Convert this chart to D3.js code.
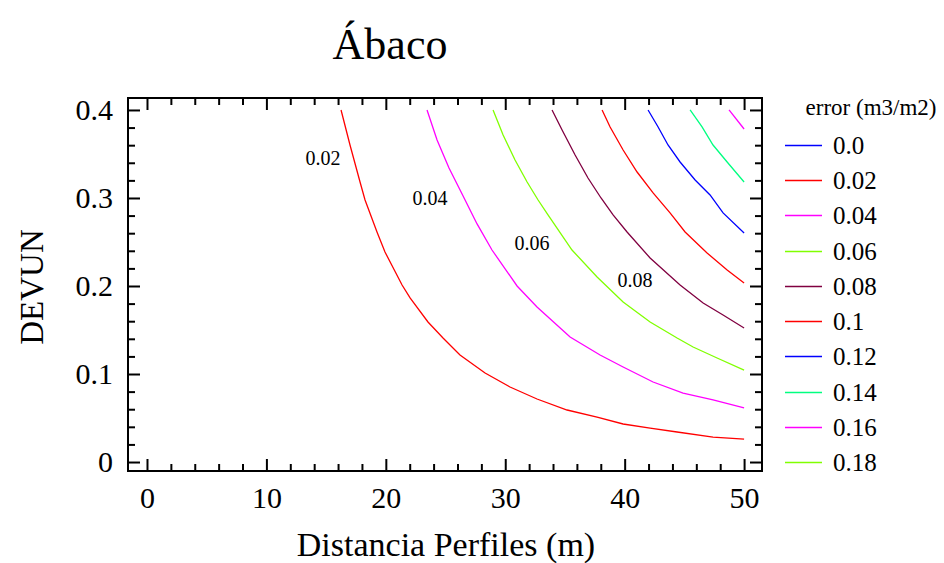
<!DOCTYPE html>
<html><head><meta charset="utf-8">
<script src="https://cdn.jsdelivr.net/npm/d3@7"></script>
<style>body{margin:0;background:#fff}svg{display:block}</style>
</head><body><svg id="c" width="944" height="563"></svg>
<script>
// ---- data ----
const levels = ["0.0","0.02","0.04","0.06","0.08","0.1","0.12","0.14","0.16","0.18"];
const levelColors = ["#0000ff","#ff0000","#ff00ff","#80ff00","#800040","#ff0000","#0000ff","#00ff80","#ff00ff","#80ff00"];
const c002x = [16.25,17.0,17.84,18.26,19.26,19.93,21.36,22.03,23.53,24.79,26.21,28.31,30.4,32.66,35.18,37.69,39.87,42.13,44.39,47.4,50];
const c002y = [0.40,0.3602,0.3182,0.2977,0.2614,0.2386,0.2011,0.1864,0.1591,0.1409,0.1216,0.1011,0.0852,0.0716,0.0591,0.0511,0.0432,0.0386,0.0341,0.0284,0.0261];
const c004x = [23.45,24.29,25.29,26.47,27.64,28.89,30.99,32.66,35.43,37.94,39.87,42.38,44.89,47.4,50];
const c004y = [0.40,0.3659,0.3341,0.3023,0.2705,0.2409,0.2,0.1761,0.142,0.1216,0.108,0.0909,0.0784,0.0705,0.0614];
const c006x = [28.98,29.82,30.82,31.83,32.75,33.58,35.59,37.69,39.87,42.13,44.39,45.73,47.74,50];
const c006y = [0.40,0.3716,0.3432,0.3182,0.2977,0.2807,0.2409,0.2102,0.1818,0.1591,0.1409,0.1307,0.1182,0.1045];
const c008x = [33.92,34.76,35.85,36.93,38.02,39.03,40.2,42.13,44.64,46.57,48.24,50];
const c008y = [0.40,0.3773,0.3489,0.3227,0.30,0.2807,0.2614,0.2318,0.2011,0.1807,0.167,0.1523];
const c010x = [38.11,38.78,39.87,41.04,42.38,43.8,45.06,46.9,48.58,50];
const c010y = [0.40,0.3807,0.3545,0.3295,0.3057,0.283,0.2614,0.2375,0.2182,0.2034];
const c012x = [41.96,42.8,43.63,44.64,45.9,47.15,48.24,50];
const c012y = [0.40,0.3807,0.3602,0.3409,0.3205,0.3034,0.283,0.2602];
const c014x = [45.48,46.48,47.4,48.58,50];
const c014y = [0.40,0.3807,0.3602,0.3409,0.3182];
const c016x = [48.74,50];
const c016y = [0.40,0.3784];
const contourLevels = ["0.02","0.04","0.06","0.08","0.1","0.12","0.14","0.16"];
const contourXs = [c002x,c004x,c006x,c008x,c010x,c012x,c014x,c016x];
const contourYs = [c002y,c004y,c006y,c008y,c010y,c012y,c014y,c016y];
const labelTexts = ["0.02","0.04","0.06","0.08"];
const labelX = [14.74,23.7,32.24,40.87];
const labelY = [0.345,0.300,0.249,0.207];
const xTicks = [0,10,20,30,40,50];
const yTicks = [0,0.1,0.2,0.3,0.4];
const title = "Ábaco";
const xTitle = "Distancia Perfiles (m)";
const yTitle = "DEVUN";
const legendTitle = "error (m3/m2)";

// ---- layout ----
const FONT = "'Liberation Serif','Times New Roman',Times,serif";
const svg = d3.select("#c");
const L=128, R=762, T=98, B=471;
const x = d3.scaleLinear().domain([-1.59,51.5]).range([L,R]);
const y = d3.scaleLinear().domain([-0.0102,0.4136]).range([B,T]);
const colorOf = d3.scaleOrdinal().domain(levels).range(levelColors);

svg.append("text").attr("x",390).attr("y",59).attr("text-anchor","middle").attr("font-family",FONT).attr("font-size",44).text(title);

const plot = svg.append("g");
plot.append("defs").append("clipPath").attr("id","clip").append("rect").attr("x",L).attr("y",T).attr("width",R-L).attr("height",B-T);

const line = d3.line().x(d=>x(d[0])).y(d=>y(d[1]));
const cg = plot.append("g").attr("clip-path","url(#clip)");
contourLevels.forEach((lv,i)=>{
  const pts = d3.zip(contourXs[i],contourYs[i]);
  cg.append("path").attr("d",line(pts)).attr("fill","none").attr("stroke",colorOf(lv)).attr("stroke-width",1.3);
});
labelTexts.forEach((t,i)=>{
  plot.append("text").attr("x",x(labelX[i])).attr("y",y(labelY[i])).attr("dy","0.35em").attr("text-anchor","middle").attr("font-family",FONT).attr("font-size",20).text(t);
});

// axes (ticks inward on all sides)
const xMinor = d3.range(0,51,2).filter(v=>v%10!==0);
const yMinor = d3.range(0,0.41,0.02).map(v=>+v.toFixed(2)).filter(v=>Math.abs(v*10-Math.round(v*10))>1e-6);
function ax(axisGen, tr){ const g=svg.append("g").attr("transform",tr).call(axisGen); g.attr("font-family",FONT); g.select(".domain").remove(); g.selectAll("line").attr("stroke","#000").attr("stroke-width",2); return g; }
// bottom
let g = ax(d3.axisBottom(x).tickValues(xTicks).tickSize(-12).tickPadding(16).tickFormat(d3.format("d")),`translate(0,${B})`);
g.selectAll("text").attr("font-size",30).attr("font-family",FONT).attr("fill","#000");
ax(d3.axisBottom(x).tickValues(xMinor).tickSize(-7).tickFormat(""),`translate(0,${B})`);
// top
ax(d3.axisTop(x).tickValues(xTicks).tickSize(-12).tickFormat(""),`translate(0,${T})`);
ax(d3.axisTop(x).tickValues(xMinor).tickSize(-7).tickFormat(""),`translate(0,${T})`);
// left
g = ax(d3.axisLeft(y).tickValues(yTicks).tickSize(-12).tickPadding(15).tickFormat(d=>d===0?"0":d3.format(".1f")(d)),`translate(${L},0)`);
g.selectAll("text").attr("font-size",30).attr("font-family",FONT).attr("fill","#000");
ax(d3.axisLeft(y).tickValues(yMinor).tickSize(-7).tickFormat(""),`translate(${L},0)`);
// right
ax(d3.axisRight(y).tickValues(yTicks).tickSize(-12).tickFormat(""),`translate(${R},0)`);
ax(d3.axisRight(y).tickValues(yMinor).tickSize(-7).tickFormat(""),`translate(${R},0)`);
svg.append("rect").attr("x",L).attr("y",T).attr("width",R-L).attr("height",B-T).attr("fill","none").attr("stroke","#000").attr("stroke-width",2);

svg.append("text").attr("x",446).attr("y",556).attr("text-anchor","middle").attr("font-family",FONT).attr("font-size",34).text(xTitle);
svg.append("text").attr("transform","translate(43,287) rotate(-90)").attr("text-anchor","middle").attr("font-family",FONT).attr("font-size",33).text(yTitle);

// legend
const lg = svg.append("g");
lg.append("text").attr("x",871).attr("y",115).attr("text-anchor","middle").attr("font-family",FONT).attr("font-size",23).text(legendTitle);
const ly = d3.scalePoint().domain(levels).range([145,462]);
levels.forEach(lv=>{
  const yy = Math.round(ly(lv)) + 0.5;
  lg.append("line").attr("x1",785).attr("x2",822).attr("y1",yy).attr("y2",yy).attr("stroke",colorOf(lv)).attr("stroke-width",1.3);
  lg.append("text").attr("x",833).attr("y",yy).attr("dy","0.35em").attr("font-family",FONT).attr("font-size",25).text(lv);
});
</script></body></html>
